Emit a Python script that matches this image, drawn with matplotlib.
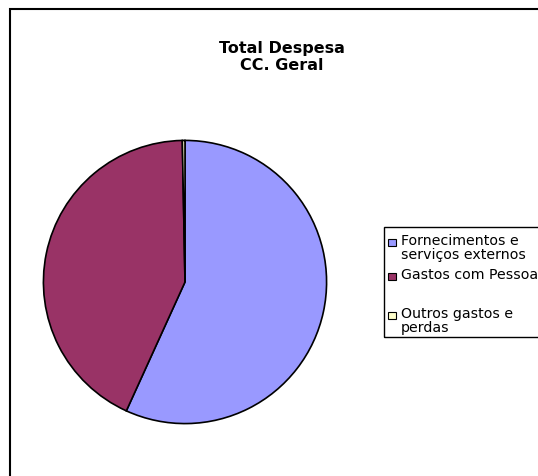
import matplotlib.pyplot as plt
from matplotlib.patches import Rectangle

plt.rcParams['font.family'] = ['DejaVu Sans']

W, H = 538, 477

labels = ["Fornecimentos e\nserviços externos", "Gastos com Pessoal", "Outros gastos e\nperdas"]
valores = [56.8, 42.9, 0.3]
cores = ["#9999FF", "#993366", "#FFFFCC"]

fig = plt.figure(figsize=(W / 100, H / 100), dpi=100)

def px(x, y):  # pixel (topo-esquerda) -> coords da figura
    return x / W, 1 - y / H

# moldura da area do grafico (sai pela direita e por baixo)
fig.patches.append(Rectangle(px(10, 500), (W + 20) / W, 490 / H, transform=fig.transFigure,
                             fill=False, edgecolor="black", lw=1.5))

# pizza
cx, cy, r = 185, 283, 143
ax = fig.add_axes([(cx - r) / W, 1 - (cy + r) / H, 2 * r / W, 2 * r / H])
ax.pie(valores, colors=cores, startangle=90, counterclock=False,
       wedgeprops=dict(edgecolor="black", linewidth=1.2))
ax.set_xlim(-1.01, 1.01)
ax.set_ylim(-1.01, 1.01)
ax.axis("off")

# titulo
fig.text(*px(282, 57), "Total Despesa\nCC. Geral", ha="center", va="center",
         fontsize=11.5, fontweight="bold", linespacing=1.1)

# legenda
fig.patches.append(Rectangle(px(384, 338), 200 / W, 110 / H, transform=fig.transFigure,
                             fill=False, edgecolor="black", lw=1.0))
ys = [243, 277, 316]
for lab, cor, y in zip(labels, cores, ys):
    fig.patches.append(Rectangle(px(388, y + 4), 7.5 / W, 7.5 / H, transform=fig.transFigure,
                                 facecolor=cor, edgecolor="black", lw=0.8))
    fig.text(*px(401, y - 9), lab, ha="left", va="top", fontsize=10.2, linespacing=1.0)

fig.savefig("out.png", dpi=100)
